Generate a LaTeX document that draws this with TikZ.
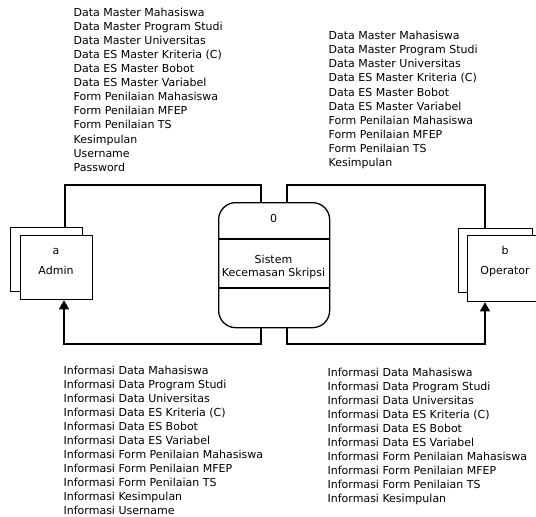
\documentclass[tikz,border=0pt]{standalone}
\usepackage{fontspec}
\setmainfont{DejaVu Sans}
\usetikzlibrary{arrows.meta}
\begin{document}
\begin{tikzpicture}[x=1pt,y=-1pt,line width=1.3pt,
  ent/.style={draw,fill=white,minimum width=72pt,minimum height=64pt,inner sep=0pt,anchor=north west},
  proc/.style={draw,fill=white,rounded corners=17pt,minimum width=111pt,minimum height=125pt,inner sep=0pt,anchor=north west},
  lbl/.style={font=\fontsize{11}{14.1}\selectfont,align=left,anchor=north west,inner sep=0pt},
  txt/.style={font=\fontsize{11}{13}\selectfont,anchor=base,inner sep=0pt},
  arr/.style={-{Triangle[length=9pt,width=10pt]}}]
\useasboundingbox (0,0) rectangle (536,517);
\clip (0,0) rectangle (536,517);
% entities
\node[ent] (adminback) at (10,227) {};
\node[ent] (admin) at (20,235) {};
\node[txt] (admina) at (56,254) {a};
\node[txt] (adminl) at (56,274) {Admin};
\node[ent,minimum width=74pt] (operatorback) at (458,228) {};
\node[ent,minimum width=76pt,minimum height=66pt] (operator) at (467,235) {};
\node[txt] (operatorb) at (505,254) {b};
\node[txt] (operatorl) at (505,274) {Operator};
% process
\node[proc] (proc) at (218,202) {};
\draw (proc.west |- 0,239) -- (proc.east |- 0,239);
\draw (proc.west |- 0,288) -- (proc.east |- 0,288);
\node[txt] (pnum) at (273.5,222) {0};
\node[txt] (pname1) at (273.5,263) {Sistem};
\node[txt] (pname2) at (273.5,276) {Kecemasan Skripsi};
% flows
\draw (adminback.north -| 65,0) -- (65,185) -| (proc.north -| 261,0);
\draw (operatorback.north -| 485,0) -- (485,185) -| (proc.north -| 287,0);
\draw[arr] (proc.south -| 261,0) -- (261,344) -| (admin.south -| 64,0);
\draw[arr] (proc.south -| 287,0) -- (287,344) -| (operator.south -| 485,0);
% labels
\node[lbl] (l1) at (73,7.1) {Data Master Mahasiswa\\Data Master Program Studi\\Data Master Universitas\\Data ES Master Kriteria (C)\\Data ES Master Bobot\\Data ES Master Variabel\\Form Penilaian Mahasiswa\\Form Penilaian MFEP\\Form Penilaian TS\\Kesimpulan\\Username\\Password};
\node[lbl] (l2) at (328,30.6) {Data Master Mahasiswa\\Data Master Program Studi\\Data Master Universitas\\Data ES Master Kriteria (C)\\Data ES Master Bobot\\Data ES Master Variabel\\Form Penilaian Mahasiswa\\Form Penilaian MFEP\\Form Penilaian TS\\Kesimpulan};
\node[lbl,font=\fontsize{11}{14}\selectfont] (l3) at (63,365) {Informasi Data Mahasiswa\\Informasi Data Program Studi\\Informasi Data Universitas\\Informasi Data ES Kriteria (C)\\Informasi Data ES Bobot\\Informasi Data ES Variabel\\Informasi Form Penilaian Mahasiswa\\Informasi Form Penilaian MFEP\\Informasi Form Penilaian TS\\Informasi Kesimpulan\\Informasi Username};
\node[lbl,font=\fontsize{11}{14}\selectfont] (l4) at (327,367.6) {Informasi Data Mahasiswa\\Informasi Data Program Studi\\Informasi Data Universitas\\Informasi Data ES Kriteria (C)\\Informasi Data ES Bobot\\Informasi Data ES Variabel\\Informasi Form Penilaian Mahasiswa\\Informasi Form Penilaian MFEP\\Informasi Form Penilaian TS\\Informasi Kesimpulan};
\end{tikzpicture}
\end{document}
